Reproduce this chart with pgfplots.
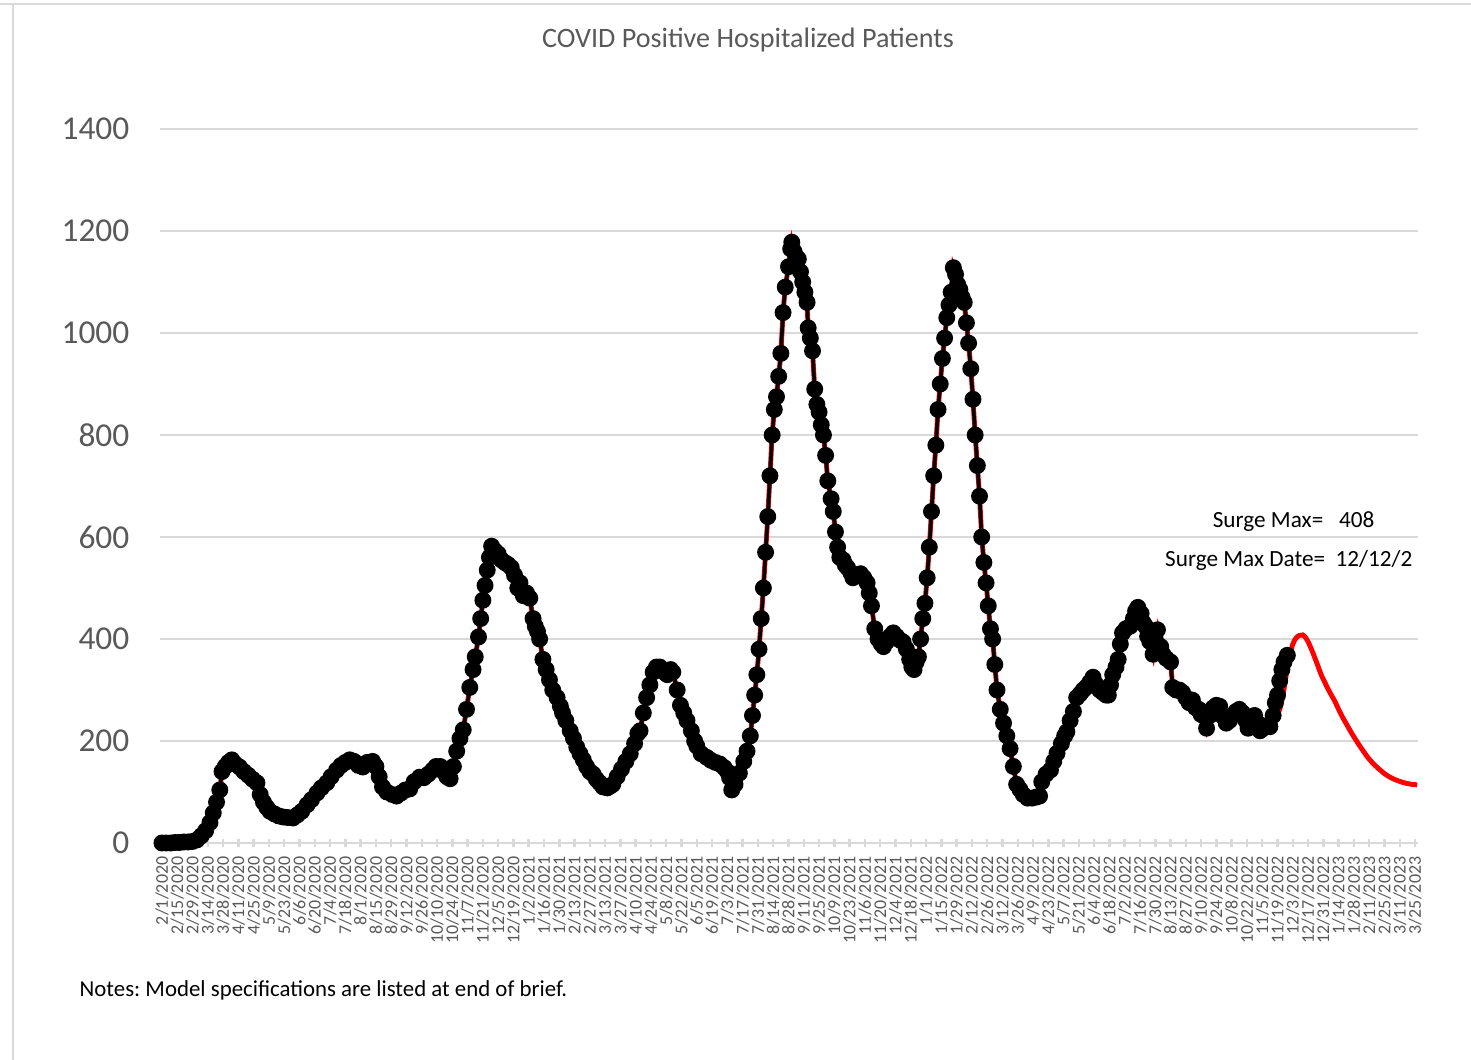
\documentclass[border=0pt]{standalone}
\usepackage{fontspec}
\setmainfont{Carlito}
\usepackage{pgfplots}
\usepackage{pgfplotstable}
\pgfplotsset{compat=1.18}
\definecolor{gridgray}{HTML}{D9D9D9}
\definecolor{labelgray}{HTML}{595959}
\frenchspacing

% observed patients, day 0 = 2/1/2020
\pgfplotstableread{
day value
0 0
4 0
8 0
12 1
16 1
20 2
24 2
28 3
32 6
36 14
40 24
44 40
47 59
50 80
53 104
55 140
58 150
61 158
64 163
67 155
71 149
75 140
79 133
83 125
87 118
90 95
93 80
96 70
99 62
103 57
107 53
111 51
115 50
120 49
124 55
128 62
133 75
137 85
142 98
146 108
151 118
155 130
160 143
164 152
168 158
172 163
176 160
180 152
184 149
188 158
193 160
196 150
199 130
202 110
206 100
211 95
215 92
219 98
223 104
227 106
231 120
236 129
240 128
244 135
248 143
251 150
255 150
258 140
261 130
264 126
267 150
270 180
273 205
276 222
279 262
282 305
285 340
287 365
290 404
292 440
294 476
296 505
298 535
300 560
302 582
305 573
308 567
311 555
314 550
317 546
320 540
323 525
326 500
328 510
331 485
334 490
337 480
340 440
342 425
344 415
346 400
349 360
352 340
355 320
358 300
362 285
365 268
367 255
370 240
374 220
377 205
380 188
383 175
386 163
389 150
392 140
395 135
398 125
401 118
404 110
408 108
411 112
413 115
417 130
421 145
425 160
429 175
433 195
436 215
438 220
441 255
444 285
447 310
450 335
453 345
456 345
460 335
463 330
466 340
468 335
472 300
475 270
478 255
481 240
485 220
488 200
490 190
494 175
499 168
503 162
507 158
511 155
515 148
518 140
520 128
522 104
525 115
529 137
533 160
536 180
539 210
541 250
543 290
545 330
547 380
549 440
551 500
553 570
555 640
557 720
559 800
561 850
563 875
565 915
567 960
569 1040
571 1090
574 1130
576 1165
577 1178
579 1160
581 1150
583 1145
585 1120
587 1100
589 1080
591 1060
592 1010
594 990
596 965
598 890
600 860
602 845
604 820
606 800
608 760
610 710
613 675
615 650
617 610
619 580
621 560
624 555
626 545
628 540
631 530
633 520
636 525
640 528
643 520
646 510
648 490
650 465
653 420
656 400
659 390
661 385
664 395
667 405
670 412
673 405
676 398
679 394
682 380
685 360
687 345
689 340
691 355
693 365
695 400
697 440
699 470
701 520
703 580
705 650
707 720
709 780
711 850
713 900
715 950
717 990
719 1030
721 1055
723 1080
725 1128
727 1115
729 1095
731 1085
733 1070
735 1060
737 1020
739 980
741 930
743 870
745 800
747 740
749 680
751 600
753 550
755 510
757 465
759 420
761 400
763 350
765 300
768 262
771 235
774 210
777 185
780 150
783 115
786 105
789 95
793 88
797 88
801 90
804 92
806 120
810 135
814 143
817 160
820 176
824 195
827 210
829 218
832 240
835 258
838 285
841 292
844 300
847 306
850 315
853 325
856 310
859 300
862 295
865 290
867 290
869 310
871 330
874 345
876 360
878 390
880 412
883 420
887 425
890 440
892 455
894 462
897 450
899 432
901 425
903 405
905 395
908 370
910 400
912 418
915 385
917 370
920 362
924 355
926 305
929 300
932 300
935 295
938 285
941 275
944 280
947 265
950 262
952 252
954 250
957 225
960 250
963 265
966 270
969 268
972 248
975 235
978 240
981 250
984 258
987 262
990 255
993 240
995 225
998 240
1001 250
1004 235
1006 220
1009 225
1012 230
1015 228
1018 250
1020 275
1022 290
1024 318
1026 340
1028 355
1031 368
}\observed

% model projection
\pgfplotstableread{
day value
1018 240
1021 250
1024 262
1027 290
1030 330
1033 365
1036 390
1039 402
1042 407
1045 408
1048 402
1051 390
1054 375
1058 353
1062 330
1066 312
1070 295
1074 280
1078 262
1082 245
1086 230
1090 215
1095 198
1100 182
1105 167
1110 155
1115 145
1120 136
1125 129
1130 124
1135 120
1140 117
1145 115
1150 114
}\model

\begin{document}
\begin{tikzpicture}
\path[use as bounding box] (0,0) rectangle (14.71,10.60);
\draw[gridgray, line width=0.6pt] (0,10.56) -- (14.71,10.56);
\draw[gridgray, line width=0.6pt] (0.13,0) -- (0.13,10.56);

\begin{axis}[
    at={(1.60cm,2.17cm)}, anchor=south west,
    scale only axis,
    width=12.58cm, height=7.14cm,
    xmin=-1.8, xmax=1150.7,
    ymin=0, ymax=1400,
    clip=false,
    axis lines*=left,
    y axis line style={draw=none},
    x axis line style={gridgray, line width=0.7pt},
    ytick={0,200,...,1400},
    ytick style={draw=none},
    xtick={0,14,...,1148},
    xticklabels={2/1/2020, 2/15/2020, 2/29/2020, 3/14/2020, 3/28/2020, 4/11/2020, 4/25/2020, 5/9/2020, 5/23/2020, 6/6/2020, 6/20/2020, 7/4/2020, 7/18/2020, 8/1/2020, 8/15/2020, 8/29/2020, 9/12/2020, 9/26/2020, 10/10/2020, 10/24/2020, 11/7/2020, 11/21/2020, 12/5/2020, 12/19/2020, 1/2/2021, 1/16/2021, 1/30/2021, 2/13/2021, 2/27/2021, 3/13/2021, 3/27/2021, 4/10/2021, 4/24/2021, 5/8/2021, 5/22/2021, 6/5/2021, 6/19/2021, 7/3/2021, 7/17/2021, 7/31/2021, 8/14/2021, 8/28/2021, 9/11/2021, 9/25/2021, 10/9/2021, 10/23/2021, 11/6/2021, 11/20/2021, 12/4/2021, 12/18/2021, 1/1/2022, 1/15/2022, 1/29/2022, 2/12/2022, 2/26/2022, 3/12/2022, 3/26/2022, 4/9/2022, 4/23/2022, 5/7/2022, 5/21/2022, 6/4/2022, 6/18/2022, 7/2/2022, 7/16/2022, 7/30/2022, 8/13/2022, 8/27/2022, 9/10/2022, 9/24/2022, 10/8/2022, 10/22/2022, 11/5/2022, 11/19/2022, 12/3/2022, 12/17/2022, 12/31/2022, 1/14/2023, 1/28/2023, 2/11/2023, 2/25/2023, 3/11/2023, 3/25/2023},
    xtick style={gridgray, line width=0.7pt},
    xtick align=center,
    major tick length=0.8mm,
    xticklabel style={font=\fontsize{5.1}{6}\selectfont, text=labelgray, inner sep=0pt, yshift=-0.9mm, rotate=90, anchor=east},
    yticklabel style={font=\fontsize{9.5}{11}\selectfont, text=labelgray, inner sep=0pt, anchor=east, xshift=-3mm},
    /pgf/number format/assume math mode=true,
    /pgf/number format/1000 sep={},
    ymajorgrids,
    grid style={gridgray, line width=0.6pt},
]
\addplot[red, line width=1.4pt, no marks] table[x=day, y=value] {\observed};
\addplot[red, line width=1.4pt, no marks, smooth] table[x=day, y=value] {\model};
\addplot[black, line width=1pt, mark=*, mark size=1.9pt, mark options={fill=black, draw=black}] table[x=day, y=value] {\observed};
\end{axis}

\node[text=labelgray, font=\fontsize{8}{10}\selectfont] at (7.48,10.20) {COVID Positive Hospitalized Patients};
\node[anchor=base east, font=\fontsize{6.6}{8}\selectfont, inner sep=0pt] at (13.75,5.32) {Surge Max=\ \ \ 408};
\node[anchor=base east, font=\fontsize{6.6}{8}\selectfont, inner sep=0pt] at (14.13,4.93) {Surge Max Date=\ \ 12/12/2};
\node[anchor=base west, font=\fontsize{6.5}{8}\selectfont, inner sep=0pt] at (0.79,0.63) {Notes: Model specifications are listed at end of brief.};
\end{tikzpicture}
\end{document}
